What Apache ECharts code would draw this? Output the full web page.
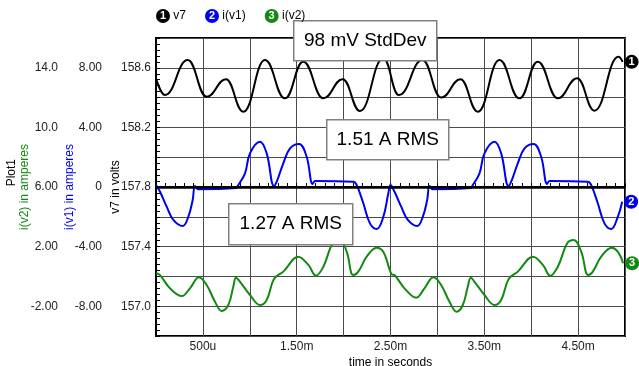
<!DOCTYPE html>
<html>
<head>
<meta charset="utf-8">
<script src="https://cdn.jsdelivr.net/npm/echarts@6/dist/echarts.min.js"></script>
<style>
  html, body { margin: 0; padding: 0; background: #fff; }
  #chart { width: 639px; height: 366px; }
</style>
</head>
<body>
<div id="chart"></div>
<script>
// time axis in ms
const v7Time = [0, 0.096, 0.338, 0.540, 0.746, 0.931, 1.162, 1.375, 1.570, 1.784, 1.990, 2.175, 2.423,
  2.590, 2.840, 3.040, 3.246, 3.431, 3.662, 3.875, 4.070, 4.284, 4.490, 4.675, 4.930, 4.975]
const v7Values = [158.53, 158.417, 158.652, 158.406, 158.523, 158.305, 158.652, 158.395, 158.641, 158.395, 158.523, 158.31, 158.664,
  158.417, 158.652, 158.40, 158.523, 158.305, 158.652, 158.395, 158.641, 158.395, 158.53, 158.312, 158.675, 158.64]

const iv1Time = [0, 0.043, 0.114, 0.185, 0.284, 0.345, 0.391, 0.416, 0.451, 0.860,
  0.870, 0.949, 1.002, 1.109, 1.180, 1.258, 1.287, 1.357, 1.429, 1.525,
  1.606, 1.670, 1.695, 2.104, 2.140, 2.210, 2.281, 2.353, 2.424, 2.477, 2.500,
  2.543, 2.614, 2.685, 2.784, 2.845, 2.891, 2.916, 2.951, 3.360, 3.370,
  3.449, 3.502, 3.609, 3.680, 3.758, 3.787, 3.857, 3.929, 4.025, 4.106,
  4.170, 4.195, 4.604, 4.640, 4.710, 4.781, 4.853, 4.924, 4.970]
const iv1Values = [0.13, -0.32, -1.32, -2.21, -2.62, -1.99, -0.87, 0.07, -0.15, -0.07,
  0.05, 0.92, 2.26, 3.04, 2.26, 0.07, 0.36, 1.59, 2.60, 2.89,
  2.03, 0.20, 0.40, 0.36, 0.13, -1.09, -2.44, -2.82, -1.99, -0.42, 0.13,
  -0.32, -1.32, -2.21, -2.62, -1.99, -0.87, 0.07, -0.15, -0.07, 0.05,
  0.92, 2.26, 3.04, 2.26, 0.07, 0.36, 1.59, 2.60, 2.89, 2.03,
  0.20, 0.40, 0.36, 0.13, -1.09, -2.44, -2.82, -1.99, -0.99]

const iv2Time = [0, 0.043, 0.149, 0.274, 0.362, 0.458, 0.540, 0.629, 0.700, 0.771,
  0.824, 0.853, 0.896, 1.002, 1.109, 1.180, 1.258, 1.357, 1.517, 1.624,
  1.706, 1.784, 1.884, 1.962, 2.033, 2.103, 2.157, 2.246, 2.353, 2.423,
  2.487, 2.513, 2.543, 2.649, 2.774, 2.862, 2.958, 3.040, 3.129, 3.205,
  3.271, 3.324, 3.356, 3.396, 3.502, 3.609, 3.680, 3.760, 3.857, 4.020,
  4.124, 4.203, 4.284, 4.384, 4.452, 4.533, 4.608, 4.657, 4.746, 4.858,
  4.923, 4.980]
const iv2Values = [0.21, 0.09, -0.80, -1.32, -0.80, -0.06, -0.58, -1.70, -2.32, -1.92,
  -0.69, -0.09, -0.36, -1.25, -1.92, -1.58, -0.17, 0.32, 1.32, 0.77,
  0.05, 0.65, 2.22, 2.44, 1.66, 0.09, 0.32, 1.32, 1.93, 1.66,
  0.54, 0.14, 0.09, -0.80, -1.43, -0.80, -0.06, -0.58, -1.70, -2.37,
  -1.92, -0.69, -0.09, -0.36, -1.25, -1.92, -1.58, -0.17, 0.32, 1.32,
  0.77, 0.05, 0.65, 2.22, 2.44, 1.66, 0.09, 0.32, 1.32, 1.93,
  1.66, 0.88]

const seriesNames = ['v7', 'i(v1)', 'i(v2)']
const xLabels = { 5: '500u', 15: '1.50m', 25: '2.50m', 35: '3.50m', 45: '4.50m' }
const notes = ['98 mV StdDev', '1.51 A RMS', '1.27 A RMS']

const black = '#000000'
const blue = '#0000f0'
const green = '#128a12'
const gridColor = '#4a4a4a'
const font = '"Liberation Sans", Arial, sans-serif'

function zip(xs, ys) {
  return xs.map((x, i) => [x, ys[i]])
}

function ampLabel(value, labelled) {
  const v = Math.round(value)
  if (!labelled.includes(v)) return ''
  return v === 0 ? '0' : v.toPrecision(3)
}

function endLabel(num, color) {
  return {
    show: true,
    formatter: String(num),
    distance: 9,
    backgroundColor: color,
    color: '#fff',
    width: 14,
    height: 14,
    lineHeight: 14,
    borderRadius: 7,
    align: 'center',
    fontSize: 11,
    fontWeight: 'bold',
    fontFamily: font
  }
}

function badge(color) {
  return { backgroundColor: color, color: '#fff', width: 14, height: 14, lineHeight: 14, borderRadius: 7, align: 'center', fontSize: 11, fontWeight: 'bold' }
}

const chart = echarts.init(document.getElementById('chart'))

const noteBox = (x, y, w, h, text) => ({
  type: 'group',
  left: x,
  top: y,
  z: 10,
  children: [
    { type: 'rect', z: 10, shape: { x: 0, y: 0, width: w, height: h }, style: { fill: '#fff', stroke: '#808080', lineWidth: 1.5 } },
    { type: 'text', z: 11, x: w / 2, y: h / 2, style: { text, font: '19px ' + font, fill: '#000', align: 'center', verticalAlign: 'middle' } }
  ]
})

const option = {
  animation: false,
  backgroundColor: '#fff',
  textStyle: { fontFamily: font },
  legend: {
    data: seriesNames,
    left: 145,
    top: 4,
    z: 20,
    itemWidth: 0,
    itemHeight: 0,
    itemGap: 13,
    textStyle: {
      color: '#000',
      fontSize: 12,
      fontFamily: font,
      rich: { n0: badge(black), n1: badge(blue), n2: badge(green) }
    },
    formatter(name) {
      const i = seriesNames.indexOf(name)
      return `{n${i}|${i + 1}} ${name}`
    }
  },
  grid: {
    left: 156,
    right: 14,
    top: 38,
    bottom: 30,
    outerBoundsMode: 'none',
    containLabel: false,
    show: true,
    borderColor: '#000',
    borderWidth: 2,
    backgroundColor: '#fff'
  },
  xAxis: {
    type: 'value',
    min: 0,
    max: 5,
    interval: 0.5,
    name: 'time in seconds',
    nameLocation: 'middle',
    nameGap: 21,
    nameMoveOverlap: false,
    nameTextStyle: { color: '#000', fontSize: 12, fontFamily: font },
    axisLine: { show: true, lineStyle: { color: '#000', width: 2 } },
    axisTick: { show: true, inside: true, length: 4, lineStyle: { color: '#000' } },
    minorTick: { show: true, splitNumber: 5, length: 4, lineStyle: { color: '#000' } },
    splitLine: { show: true, lineStyle: { color: gridColor, width: 1 } },
    axisLabel: {
      color: '#222',
      fontSize: 12,
      margin: 5,
      showMinLabel: false,
      showMaxLabel: false,
      formatter(value) {
        return xLabels[Math.round(value * 10)] || ''
      }
    }
  },
  yAxis: [
    {
      type: 'value',
      position: 'left',
      min: 156.8,
      max: 158.8,
      interval: 0.2,
      name: 'v7 in volts',
      nameLocation: 'middle',
      nameRotate: 90,
      nameGap: 34,
      nameMoveOverlap: false,
      nameTextStyle: { color: '#000', fontSize: 12, fontFamily: font },
      axisLine: { show: true, lineStyle: { color: '#000', width: 2 } },
      axisTick: { show: true, inside: true, length: 4, lineStyle: { color: '#000' } },
      minorTick: { show: true, splitNumber: 5, length: 4, lineStyle: { color: '#000' } },
      splitLine: { show: true, lineStyle: { color: gridColor, width: 1 } },
      axisLabel: {
        color: '#222',
        fontSize: 12,
        margin: 5,
        formatter(value) {
          const n = Math.round(value * 10)
          return (n - 1570) % 4 === 0 && n < 1588 ? (n / 10).toFixed(1) : ''
        }
      }
    },
    {
      type: 'value',
      position: 'left',
      offset: 50,
      min: -10,
      max: 10,
      interval: 2,
      name: 'i(v1) in amperes',
      nameLocation: 'middle',
      nameRotate: 90,
      nameGap: 30,
      nameMoveOverlap: false,
      nameTextStyle: { color: blue, fontSize: 12, fontFamily: font },
      axisLine: { show: false },
      axisTick: { show: false },
      splitLine: { show: false },
      axisLabel: {
        color: '#222',
        fontSize: 12,
        margin: 4,
        formatter: value => ampLabel(value, [-8, -4, 0, 4, 8])
      }
    },
    {
      type: 'value',
      position: 'left',
      offset: 94,
      min: -4,
      max: 16,
      interval: 2,
      name: 'i(v2) in amperes',
      nameLocation: 'middle',
      nameRotate: 90,
      nameGap: 31,
      nameMoveOverlap: false,
      nameTextStyle: { color: green, fontSize: 12, fontFamily: font },
      axisLine: { show: false },
      axisTick: { show: false },
      splitLine: { show: false },
      axisLabel: {
        color: '#222',
        fontSize: 12,
        margin: 4,
        formatter: value => ampLabel(value, [-2, 2, 6, 10, 14])
      }
    }
  ],
  series: [
    {
      name: seriesNames[0],
      type: 'line',
      yAxisIndex: 0,
      data: zip(v7Time, v7Values),
      smooth: 0.45,
      smoothMonotone: 'x',
      showSymbol: false,
      color: black,
      lineStyle: { color: black, width: 2 },
      endLabel: endLabel(1, black),
      z: 3
    },
    {
      name: seriesNames[1],
      type: 'line',
      yAxisIndex: 1,
      data: zip(iv1Time, iv1Values),
      smooth: 0.4,
      showSymbol: false,
      color: blue,
      lineStyle: { color: blue, width: 2 },
      endLabel: endLabel(2, blue),
      markLine: {
        silent: true,
        symbol: ['none', 'none'],
        label: { show: false },
        lineStyle: { color: '#000', width: 2.5, type: 'solid' },
        data: [{ yAxis: 0 }]
      },
      z: 3
    },
    {
      name: seriesNames[2],
      type: 'line',
      yAxisIndex: 2,
      data: zip(iv2Time, iv2Values),
      smooth: 0.4,
      showSymbol: false,
      color: green,
      lineStyle: { color: green, width: 2 },
      endLabel: endLabel(3, green),
      z: 3
    }
  ],
  graphic: [
    {
      type: 'text',
      left: 6,
      top: 159,
      rotation: Math.PI / 2,
      style: { text: 'Plot1', font: '12px ' + font, fill: '#000' }
    },
    noteBox(293, 20, 143, 40, notes[0]),
    noteBox(326, 119, 122, 40, notes[1]),
    noteBox(228, 203, 124, 41, notes[2])
  ]
}

chart.setOption(option)
</script>
</body>
</html>
